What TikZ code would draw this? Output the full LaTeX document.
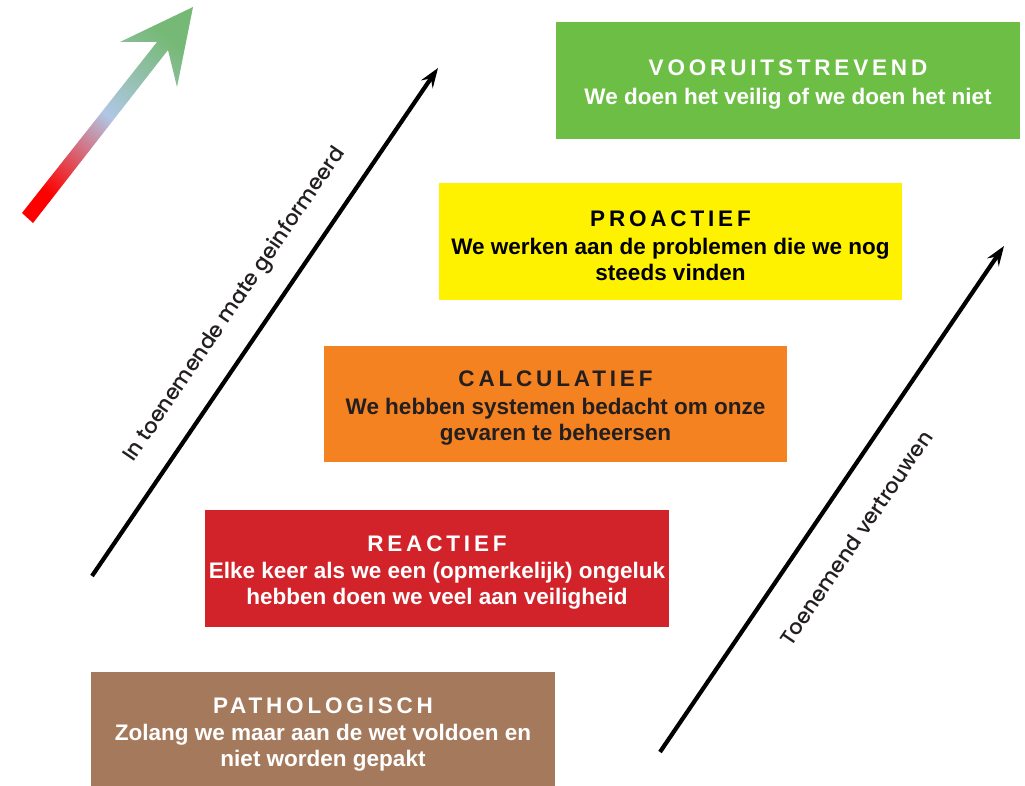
\documentclass[tikz,border=0pt]{standalone}
\usepackage{fontspec}
\setmainfont{Liberation Sans}
\newfontfamily\kopfont{Liberation Sans}[LetterSpace=17]
\newfontfamily\pijlfont{Poppins-Medium}
\usetikzlibrary{arrows.meta}
\usetikzlibrary{positioning}

\definecolor{vgroen}{RGB}{108,190,69}
\definecolor{vgeel}{RGB}{255,242,0}
\definecolor{voranje}{RGB}{245,130,32}
\definecolor{vrood}{RGB}{210,35,42}
\definecolor{vbruin}{RGB}{165,121,92}
\definecolor{donker}{RGB}{35,31,32}
\definecolor{pijlrood}{RGB}{255,0,0}
\definecolor{pijlblauw}{RGB}{176,199,228}
\definecolor{pijlgroen}{RGB}{118,185,118}

\tikzset{
  niveau/.style={rectangle,inner sep=0pt,minimum width=11.575cm,minimum height=2.9cm,align=center,font=\bfseries\fontsize{16}{18.5}\selectfont},
  pijl/.style={line width=3pt,-{Stealth[length=14pt,width=10pt,inset=5pt]}},
  pijltekst/.style={font=\pijlfont\fontsize{15}{18}\selectfont,text=donker,inner sep=0pt}
}

\begin{document}
\begin{tikzpicture}[x=0.025cm,y=-0.025cm]
\useasboundingbox (0,0) rectangle (1025,786);

\shade[bottom color=pijlrood,top color=pijlgroen,middle color=pijlblauw,shading angle=-38.3]
  (22,213) -- (157,42) -- (120,42) -- (193,7) -- (177,87) -- (168,50) -- (33,223) -- cycle;

\node[niveau,fill=vgroen,text=white] (vooruit) at (788,80.5) {\rule{0pt}{17pt}{\kopfont VOORUITSTREVEND}\\[2pt] We doen het veilig of we doen het niet};
\node[niveau,fill=vgeel,text=black] (proactief) at (670.5,241.5) {\rule{0pt}{17pt}{\kopfont PROACTIEF}\\[1pt] We werken aan de problemen die we nog\\ steeds vinden};
\node[niveau,fill=voranje,text=donker] (calc) at (555.5,404) {\rule{0pt}{17pt}{\kopfont CALCULATIEF}\\[1pt] We hebben systemen bedacht om onze\\ gevaren te beheersen};
\node[niveau,fill=vrood,text=white] (reactief) at (437,568.5) {\rule{0pt}{17pt}{\kopfont REACTIEF}\\[1pt] Elke keer als we een (opmerkelijk) ongeluk\\ hebben doen we veel aan veiligheid};
\node[niveau,fill=vbruin,text=white] (patho) at (323,730.5) {\rule{0pt}{17pt}{\kopfont PATHOLOGISCH}\\[1pt] Zolang we maar aan de wet voldoen en\\ niet worden gepakt};

\coordinate (infoA) at (92,576);
\coordinate (infoB) at (438,68);
\draw[pijl] (infoA) -- (infoB);
\node[pijltekst,rotate=55.7] (infotekst) at (235,305) {In toenemende mate geinformeerd};

\coordinate (vertrA) at (660,752);
\coordinate (vertrB) at (1004,246);
\draw[pijl] (vertrA) -- (vertrB);
\node[pijltekst,rotate=55.8] (vertrtekst) at (856,538) {Toenemend vertrouwen};

\end{tikzpicture}
\end{document}
